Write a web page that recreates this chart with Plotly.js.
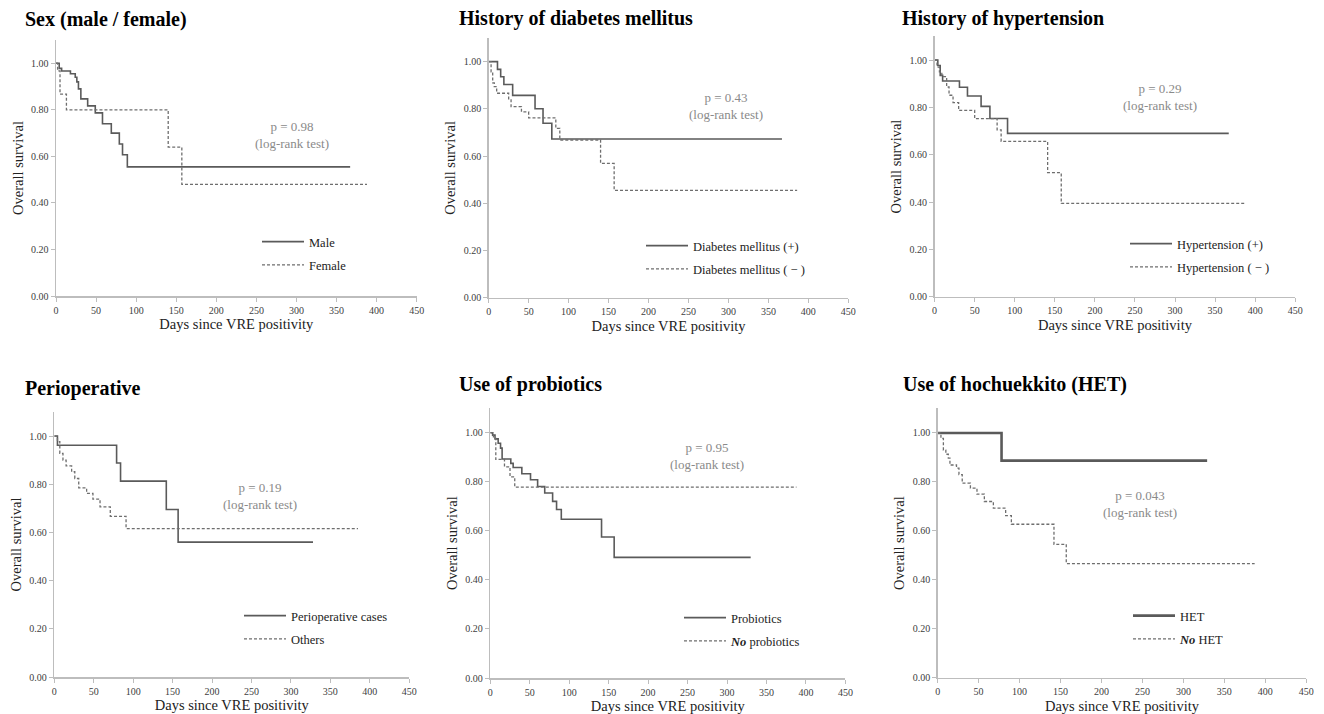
<!DOCTYPE html>
<html>
<head>
<meta charset="utf-8">
<script src="https://cdn.plot.ly/plotly-3.0.1.min.js"></script>
<style>html,body{margin:0;padding:0;background:#fff;}#chart{width:1324px;height:714px;}</style>
</head>
<body>
<div id="chart"></div>
<script>
// ---------- Data (days since VRE positivity, survival probability) ----------
const panelTitles = ["Sex (male / female)", "History of diabetes mellitus", "History of hypertension",
                     "Perioperative", "Use of probiotics", "Use of hochuekkito (HET)"];
const pValues = ["0.98", "0.43", "0.29", "0.19", "0.95", "0.043"];
const solidLabels = ["Male", "Diabetes mellitus (+)", "Hypertension (+)", "Perioperative cases", "Probiotics", "HET"];
const dashLabels = ["Female", "Diabetes mellitus ( − )", "Hypertension ( − )", "Others", "<b><i>No</i></b> probiotics", "<b><i>No</i></b> HET"];

const maleDays = [0, 4, 7, 18, 24, 26, 28, 31, 39.5, 49, 58, 69, 79, 83, 89, 367];
const maleSurv = [1, 0.978, 0.967, 0.955, 0.94, 0.92, 0.89, 0.847, 0.817, 0.787, 0.74, 0.70, 0.653, 0.607, 0.555, 0.555];
const femaleDays = [0, 2, 5, 13, 140, 157, 388];
const femaleSurv = [1, 0.967, 0.867, 0.80, 0.64, 0.48, 0.48];

const dmPosDays = [0, 11, 15, 19, 30, 58, 68, 79, 367];
const dmPosSurv = [1, 0.967, 0.936, 0.903, 0.857, 0.80, 0.739, 0.672, 0.672];
const dmNegDays = [0, 3, 5, 7, 10, 25, 28, 41, 50, 84, 89, 140, 157, 386];
const dmNegSurv = [1, 0.957, 0.91, 0.894, 0.866, 0.838, 0.809, 0.787, 0.762, 0.717, 0.668, 0.569, 0.455, 0.455];

const htPosDays = [0, 4, 7, 10, 31, 41, 58, 69, 91, 367];
const htPosSurv = [1, 0.977, 0.935, 0.911, 0.885, 0.848, 0.804, 0.753, 0.69, 0.69];
const htNegDays = [0, 3, 6, 9, 15, 18, 23, 30, 50, 78, 83, 141, 158, 388];
const htNegSurv = [1, 0.97, 0.95, 0.93, 0.886, 0.851, 0.82, 0.787, 0.752, 0.705, 0.656, 0.524, 0.394, 0.394];

const periopDays = [0, 4, 79, 84, 142, 157, 328];
const periopSurv = [1, 0.962, 0.888, 0.813, 0.695, 0.56, 0.56];
const othersDays = [0, 4, 7, 11, 15, 22, 26, 31, 41, 49, 58, 71, 91, 385];
const othersSurv = [1, 0.977, 0.928, 0.90, 0.876, 0.852, 0.824, 0.785, 0.762, 0.738, 0.706, 0.667, 0.616, 0.616];

const probioDays = [0, 3, 6, 10, 13, 15, 26, 29, 40, 51, 60, 69, 79, 84, 90, 141, 157, 330];
const probioSurv = [1, 0.99, 0.975, 0.957, 0.937, 0.893, 0.875, 0.858, 0.833, 0.808, 0.781, 0.754, 0.72, 0.687, 0.647, 0.575, 0.492, 0.492];
const noProbioDays = [0, 4, 7, 18, 25, 31, 388];
const noProbioSurv = [1, 0.977, 0.891, 0.861, 0.82, 0.778, 0.778];

const hetDays = [0, 78, 329];
const hetSurv = [1, 0.887, 0.887];
const noHetDays = [0, 4, 7, 10, 13, 15, 23, 26, 30, 40, 48, 57, 68, 83, 90, 142, 157, 387];
const noHetSurv = [1, 0.978, 0.93, 0.913, 0.897, 0.869, 0.856, 0.83, 0.795, 0.775, 0.75, 0.72, 0.693, 0.662, 0.627, 0.545, 0.466, 0.466];

const xTickVals = [0, 50, 100, 150, 200, 250, 300, 350, 400, 450];
const yTickVals = [0, 0.2, 0.4, 0.6, 0.8, 1.0];

// ---------- Build ----------
const solidSeries = [[maleDays, maleSurv], [dmPosDays, dmPosSurv], [htPosDays, htPosSurv],
                     [periopDays, periopSurv], [probioDays, probioSurv], [hetDays, hetSurv]];
const dashSeries = [[femaleDays, femaleSurv], [dmNegDays, dmNegSurv], [htNegDays, htNegSurv],
                    [othersDays, othersSurv], [noProbioDays, noProbioSurv], [noHetDays, noHetSurv]];

// layout geometry (paper fractions)
const xDomains = [[0.0423, 0.3147], [0.3691, 0.6407], [0.7059, 0.9783],
                  [0.0410, 0.3091], [0.3703, 0.6385], [0.7082, 0.9866]];
const yDomains = [[0.5854, 0.9440], [0.5830, 0.9468], [0.5845, 0.9491],
                  [0.0518, 0.4230], [0.0504, 0.4283], [0.0508, 0.4279]];
const titlePos = [[23, 19], [457, 18], [900, 18], [23, 389], [457, 384], [901, 384]];
const legendPos = [[257, 227], [641, 231], [1125, 229], [239, 601], [679, 603], [1128, 601]];
const pPos = [[294, 0.69], [297, 0.81], [281, 0.845], [261, 0.753], [275, 0.906], [247, 0.709]];

const serif = "Liberation Serif, Times New Roman, serif";
const W = 1324, H = 714;

const traces = [];
const layout = {
  width: W, height: H,
  margin: {l: 0, r: 0, t: 0, b: 0},
  paper_bgcolor: "#ffffff",
  plot_bgcolor: "#ffffff",
  showlegend: true,
  font: {family: serif, color: "#333"},
  annotations: []
};

for (let i = 0; i < 6; i++) {
  const n = i + 1;
  const sfx = n === 1 ? "" : String(n);
  const legName = n === 1 ? "legend" : "legend" + n;
  traces.push({
    type: "scatter", mode: "lines",
    x: solidSeries[i][0], y: solidSeries[i][1],
    xaxis: "x" + sfx, yaxis: "y" + sfx,
    name: solidLabels[i], legend: legName, legendgroup: "s" + n,
    line: {shape: "hv", color: "#5a5a5a", width: n === 6 ? 2.6 : 1.6},
    hoverinfo: "x+y"
  });
  traces.push({
    type: "scatter", mode: "lines",
    x: dashSeries[i][0], y: dashSeries[i][1],
    xaxis: "x" + sfx, yaxis: "y" + sfx,
    name: dashLabels[i], legend: legName, legendgroup: "d" + n,
    line: {shape: "hv", color: "#6e6e6e", width: 1.3, dash: "3px,2px"},
    hoverinfo: "x+y"
  });

  layout["xaxis" + sfx] = {
    domain: xDomains[i], anchor: "y" + sfx,
    range: [0, 450], tickvals: xTickVals,
    showline: true, linecolor: "#bdbdbd", linewidth: 1.5,
    ticks: "outside", ticklen: 4, tickcolor: "#bdbdbd", tickwidth: 1,
    showgrid: false, zeroline: false,
    tickfont: {family: serif, size: 10, color: "#404040"},
    title: {text: "Days since VRE positivity", font: {family: serif, size: 14.5, color: "#222"}, standoff: 4}
  };
  layout["yaxis" + sfx] = {
    domain: yDomains[i], anchor: "x" + sfx,
    range: [0, 1.1], tickvals: yTickVals, tickformat: ".2f",
    showline: true, linecolor: "#bdbdbd", linewidth: 1.5,
    ticks: "outside", ticklen: 4, tickcolor: "#bdbdbd", tickwidth: 1,
    showgrid: false, zeroline: false,
    tickfont: {family: serif, size: 10, color: "#404040"},
    title: {text: "Overall survival", font: {family: serif, size: 14.5, color: "#222"}, standoff: 4}
  };

  layout[legName] = {
    x: legendPos[i][0] / W, y: 1 - legendPos[i][1] / H,
    xanchor: "left", yanchor: "top",
    bgcolor: "rgba(0,0,0,0)", borderwidth: 0,
    font: {family: serif, size: 12.5, color: "#222"},
    traceorder: "grouped", tracegroupgap: 4,
    itemwidth: 42
  };

  layout.annotations.push({
    xref: "paper", yref: "paper",
    x: titlePos[i][0] / W, y: 1 - titlePos[i][1] / H,
    xanchor: "left", yanchor: "middle", showarrow: false,
    text: "<b>" + panelTitles[i] + "</b>",
    font: {family: serif, size: 20, color: "#000"}
  });
  layout.annotations.push({
    xref: "x" + sfx, yref: "y" + sfx,
    x: pPos[i][0], y: pPos[i][1],
    xanchor: "center", yanchor: "middle", showarrow: false,
    text: "p = " + pValues[i] + "<br>(log-rank test)",
    font: {family: serif, size: 13, color: "#8a8a8a"}
  });
}

Plotly.newPlot("chart", traces, layout, {displayModeBar: false, staticPlot: true});
</script>
</body>
</html>
